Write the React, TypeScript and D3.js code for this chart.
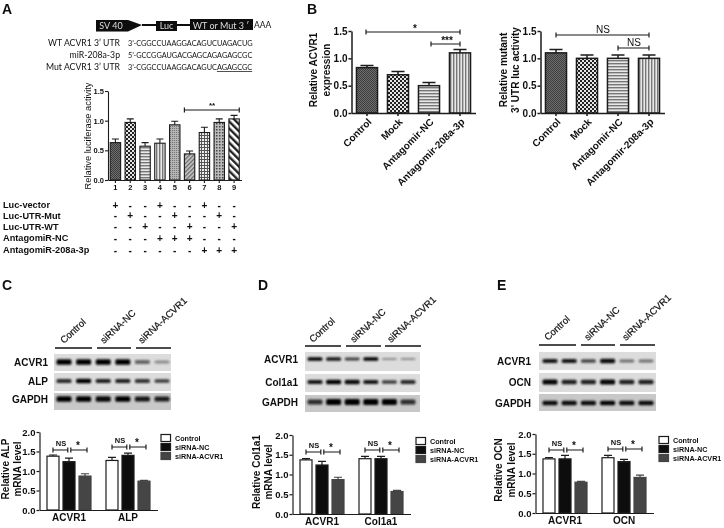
import React, { useEffect, useRef } from 'react';
import * as d3 from 'd3';

// Panel A
const lucLanes = ['1', '2', '3', '4', '5', '6', '7', '8', '9'];
const lucValues = [0.63, 0.97, 0.57, 0.62, 0.93, 0.44, 0.8, 0.97, 1.03];
const lucErrors = [0.06, 0.06, 0.06, 0.07, 0.06, 0.05, 0.09, 0.06, 0.06];
const lucPatterns = ['dither', 'checker', 'hlines', 'vlines', 'fineDiag', 'diag', 'grid', 'dots', 'hatch'];
const treatmentRows = ['Luc-vector', 'Luc-UTR-Mut', 'Luc-UTR-WT', 'AntagomiR-NC', 'AntagomiR-208a-3p'];
const treatmentSigns = [
  '+--+--+--',
  '-+--+--+-',
  '--+--+--+',
  '---+++---',
  '------+++',
];

// Panel B
const antagomirGroups = ['Control', 'Mock', 'Antagomir-NC', 'Antagomir-208a-3p'];
const antagomirPatterns = ['dither', 'checker', 'hlines', 'vlines'];
const acvr1Values = [0.83, 0.7, 0.5, 1.1];
const acvr1Errors = [0.04, 0.06, 0.06, 0.06];
const mutantValues = [1.1, 1.0, 1.0, 1.0];
const mutantErrors = [0.06, 0.06, 0.06, 0.06];

// Panels C, D, E
const sirnaSeries = ['Control', 'siRNA-NC', 'siRNA-ACVR1'];
const alpValues = [[1.38, 1.24, 0.87], [1.27, 1.4, 0.74]];
const alpErrors = [[0.03, 0.09, 0.06], [0.08, 0.06, 0.02]];
const col1a1Values = [[1.37, 1.24, 0.87], [1.4, 1.4, 0.57]];
const col1a1Errors = [[0.03, 0.09, 0.06], [0.06, 0.06, 0.03]];
const ocnValues = [[1.37, 1.37, 0.78], [1.4, 1.3, 0.9]];
const ocnErrors = [[0.03, 0.09, 0.02], [0.06, 0.06, 0.06]];

// Western blot band strength per lane
const blotC = [[1, 1, 1, 1, 0.5, 0.3], [0.8, 1, 0.85, 0.85, 0.75, 0.7], [1, 1, 0.95, 1, 0.9, 0.85]];
const blotD = [[1, 0.9, 0.7, 1, 0.3, 0.3], [0.9, 1, 0.95, 0.9, 0.7, 0.8], [0.75, 1, 1, 1, 1, 0.75]];
const blotE = [[0.9, 0.9, 0.65, 0.95, 0.45, 0.45], [1, 0.85, 0.85, 1, 0.85, 0.85], [0.95, 0.95, 0.95, 1, 0.95, 0.95]];

const FONT = '"Liberation Sans", Arial, sans-serif';
const SERIES_FILL = ['#fff', '#111', '#444'];
const INK = '#1c1c1c';

const addPatterns = defs => {
  const pattern = (id, w, h) => defs.append('pattern')
    .attr('id', id).attr('width', w).attr('height', h)
    .attr('patternUnits', 'userSpaceOnUse');
  const rect = (p, x, y, w, h, fill) => p.append('rect')
    .attr('x', x).attr('y', y).attr('width', w).attr('height', h).attr('fill', fill);

  let p = pattern('dither', 2, 2);
  rect(p, 0, 0, 2, 2, '#6e6e6e');
  rect(p, 0, 0, 1, 1, '#3c3c3c');
  rect(p, 1, 1, 1, 1, '#3c3c3c');

  p = pattern('checker', 4, 4);
  rect(p, 0, 0, 4, 4, '#e4e4e4');
  rect(p, 0, 0, 2, 2, '#222');
  rect(p, 2, 2, 2, 2, '#222');

  p = pattern('hlines', 3, 3);
  rect(p, 0, 0, 3, 3, '#e8e8e8');
  rect(p, 0, 0, 3, 1.4, '#777');

  p = pattern('vlines', 3, 3);
  rect(p, 0, 0, 3, 3, '#e8e8e8');
  rect(p, 0, 0, 1.4, 3, '#777');

  p = pattern('fineDiag', 2, 2);
  rect(p, 0, 0, 2, 2, '#b4b4b4');
  rect(p, 0, 0, 1, 1, '#777');

  p = pattern('diag', 3, 3).attr('patternTransform', 'rotate(45)');
  rect(p, 0, 0, 3, 3, '#c8c8c8');
  rect(p, 0, 0, 1.3, 3, '#666');

  p = pattern('grid', 3, 3);
  rect(p, 0, 0, 3, 3, '#eee');
  rect(p, 0, 0, 3, 1, '#555');
  rect(p, 0, 0, 1, 3, '#555');

  p = pattern('dots', 3, 3);
  rect(p, 0, 0, 3, 3, '#bbb');
  rect(p, 0, 0, 1.5, 1.5, '#444');

  p = pattern('hatch', 5, 5).attr('patternTransform', 'rotate(-45)');
  rect(p, 0, 0, 5, 5, '#fff');
  rect(p, 0, 0, 2.4, 5, '#222');

  defs.append('filter').attr('id', 'band-blur')
    .attr('x', '-30%').attr('y', '-100%').attr('width', '160%').attr('height', '300%')
    .append('feGaussianBlur').attr('stdDeviation', 0.9);
  defs.append('filter').attr('id', 'soft')
    .attr('x', 0).attr('y', 0).attr('width', 724).attr('height', 528)
    .attr('filterUnits', 'userSpaceOnUse')
    .append('feGaussianBlur').attr('stdDeviation', 0.3);
};

const label = (g, x, y, text, size = 10, weight = 'bold', anchor = 'middle') => g.append('text')
  .attr('x', x).attr('y', y)
  .attr('text-anchor', anchor)
  .attr('font-family', FONT)
  .attr('font-size', size)
  .attr('font-weight', weight)
  .attr('fill', '#111')
  .text(text);

const yLabel = (g, x, y, text, size = 10, weight = 'bold') => g.append('text')
  .attr('transform', `translate(${x},${y}) rotate(-90)`)
  .attr('text-anchor', 'middle')
  .attr('font-family', FONT)
  .attr('font-size', size)
  .attr('font-weight', weight)
  .attr('fill', '#111')
  .text(text);

const bracket = (g, x1, x2, y, cap = 2.5, width = 1.2) => {
  g.append('path')
    .attr('d', `M${x1},${y - cap}V${y + cap}M${x1},${y}H${x2}M${x2},${y - cap}V${y + cap}`)
    .attr('fill', 'none')
    .attr('stroke', INK)
    .attr('stroke-width', width);
};

const styleAxis = (axisG, size, width) => {
  axisG.select('.domain').attr('stroke', INK).attr('stroke-width', width);
  axisG.selectAll('.tick line').attr('stroke', INK).attr('stroke-width', width);
  axisG.selectAll('.tick text')
    .attr('font-family', FONT)
    .attr('font-size', size)
    .attr('font-weight', 'bold')
    .attr('fill', '#111');
};

// One series per category, each bar with its own fill pattern
const drawPatternBars = (g, o) => {
  const { cats, values, errors, patterns, xRange, yRange, inner, outer, tickSize, stroke, cap } = o;
  const x = d3.scaleBand().domain(cats).range(xRange).paddingInner(inner).paddingOuter(outer);
  const y = d3.scaleLinear().domain([0, 1.5]).range(yRange);

  g.selectAll(null)
    .data(cats)
    .enter()
    .append('g')
    .each(function (c, i) {
      const bar = d3.select(this);
      const cx = x(c) + x.bandwidth() / 2;
      const top = y(values[i] + errors[i]);
      bar.append('path')
        .attr('d', `M${cx - cap},${top}H${cx + cap}M${cx},${top}V${y(values[i])}`)
        .attr('stroke', INK)
        .attr('stroke-width', stroke);
      bar.append('rect')
        .attr('x', x(c))
        .attr('y', y(values[i]))
        .attr('width', x.bandwidth())
        .attr('height', y(0) - y(values[i]))
        .attr('fill', `url(#${patterns[i]})`)
        .attr('stroke', INK)
        .attr('stroke-width', stroke);
    });

  const yAxis = g.append('g')
    .attr('transform', `translate(${xRange[0]},0)`)
    .call(d3.axisLeft(y).tickValues([0, 0.5, 1, 1.5]).tickFormat(d3.format('.1f')).tickSize(3).tickSizeOuter(0).tickPadding(1));
  styleAxis(yAxis, tickSize, stroke);
  const xAxis = g.append('g')
    .attr('transform', `translate(0,${yRange[0]})`)
    .call(d3.axisBottom(x).tickSize(3).tickSizeOuter(0).tickPadding(2));
  styleAxis(xAxis, tickSize, stroke);
  return { x, y, xAxis };
};

// Two groups of three bars, shared by panels C, D and E
const drawGroupedBars = (g, o) => {
  const { groups, values, errors, xRange, yRange, yTitle, yTitleX, yTitleY, legendX, legendY, bracketY } = o;
  const x0 = d3.scaleBand().domain(groups).range(xRange).paddingInner(0.254).paddingOuter(0.127);
  const x1 = d3.scaleBand().domain(sirnaSeries).range([0, x0.bandwidth()]).paddingInner(0.25);
  const y = d3.scaleLinear().domain([0, 2]).range(yRange);

  groups.forEach((group, gi) => {
    const centers = sirnaSeries.map(s => x0(group) + x1(s) + x1.bandwidth() / 2);
    sirnaSeries.forEach((s, si) => {
      const cx = centers[si];
      const v = values[gi][si];
      const top = y(v + errors[gi][si]);
      g.append('path')
        .attr('d', `M${cx - 4},${top}H${cx + 4}M${cx},${top}V${y(v)}`)
        .attr('stroke', si === 2 ? '#444' : INK)
        .attr('stroke-width', 1.2);
      g.append('rect')
        .attr('x', cx - x1.bandwidth() / 2)
        .attr('y', y(v))
        .attr('width', x1.bandwidth())
        .attr('height', y(0) - y(v))
        .attr('fill', SERIES_FILL[si])
        .attr('stroke', si === 2 ? '#444' : INK)
        .attr('stroke-width', 1.2);
    });
    const by = bracketY[gi];
    bracket(g, centers[0], centers[1] - 1.2, by);
    bracket(g, centers[1] + 1.8, centers[2] + 2, by);
    label(g, (centers[0] + centers[1]) / 2, by - 4, 'NS', 7.5);
    label(g, (centers[1] + centers[2]) / 2 + 1, by - 1, '*', 10);
  });

  const yAxis = g.append('g')
    .attr('transform', `translate(${xRange[0]},0)`)
    .call(d3.axisLeft(y).ticks(4).tickFormat(d3.format('.1f')).tickSize(3).tickSizeOuter(0).tickPadding(1));
  styleAxis(yAxis, 9.5, 1.2);
  const xAxis = g.append('g')
    .attr('transform', `translate(0,${yRange[0]})`)
    .call(d3.axisBottom(x0).tickSize(0).tickSizeOuter(0).tickPadding(4));
  styleAxis(xAxis, 10, 1.2);

  yLabel(g, yTitleX[0], yTitleY, yTitle);
  yLabel(g, yTitleX[1], yTitleY, 'mRNA level');

  sirnaSeries.forEach((s, i) => {
    const ly = legendY + i * 9;
    g.append('rect')
      .attr('x', legendX).attr('y', ly - 3.5)
      .attr('width', 9.5).attr('height', 7)
      .attr('fill', SERIES_FILL[i])
      .attr('stroke', i === 2 ? '#444' : INK)
      .attr('stroke-width', 1.2);
    label(g, legendX + 14, ly + 2.5, s, 7.2, 'bold', 'start');
  });
};

const drawBlot = (g, o) => {
  const { rows, strengths, names, xRange, laneRange, rowBoxes, bandY, bandThick, labelX, lineY, lineSpans, nameXs, nameY } = o;
  const lanes = d3.scalePoint().domain(d3.range(6)).range(laneRange);
  const alpha = d3.scaleLinear().domain([0, 1]).range([0.1, 1]);
  const thick = d3.scaleLinear().domain([0, 1]).range([0.4, 1]);

  rows.forEach((row, r) => {
    g.append('rect')
      .attr('x', xRange[0]).attr('y', rowBoxes[r][0])
      .attr('width', xRange[1] - xRange[0]).attr('height', rowBoxes[r][1] - rowBoxes[r][0])
      .attr('fill', r === 2 ? '#c8c8c8' : '#dcdcdc');
    strengths[r].forEach((s, lane) => {
      const h = bandThick[r] * thick(s);
      g.append('rect')
        .attr('x', lanes(lane) - 7.5)
        .attr('y', bandY[r] - h / 2)
        .attr('width', 15)
        .attr('height', h)
        .attr('rx', 1.5)
        .attr('fill', '#050505')
        .attr('opacity', alpha(s))
        .attr('filter', 'url(#band-blur)');
    });
    label(g, labelX, bandY[r] + 3.5, row, 10, 'bold', 'end');
  });

  lineSpans.forEach(([a, b]) => {
    g.append('line')
      .attr('x1', a).attr('x2', b)
      .attr('y1', lineY).attr('y2', lineY)
      .attr('stroke', '#111')
      .attr('stroke-width', 1.4);
  });
  names.forEach((n, i) => {
    g.append('text')
      .attr('transform', `translate(${nameXs[i]},${nameY}) rotate(-43)`)
      .attr('font-family', FONT)
      .attr('font-size', 9.6)
      .attr('fill', '#111')
      .attr('stroke', '#111')
      .attr('stroke-width', 0.2)
      .text(n);
  });
};

const drawPanelA = g => {
  // construct diagram
  g.append('path')
    .attr('d', 'M96,20H128L142,25L128,31.5H96Z')
    .attr('fill', '#0c0c0c');
  g.append('path').attr('d', 'M142,25H190').attr('stroke', '#0c0c0c').attr('stroke-width', 1.8);
  g.append('rect').attr('x', 156).attr('y', 21).attr('width', 21).attr('height', 10).attr('fill', '#0c0c0c');
  g.append('rect').attr('x', 190).attr('y', 19).attr('width', 63).attr('height', 11).attr('fill', '#0c0c0c');
  const white = (x, text) => g.append('text')
    .attr('x', x).attr('y', 28.5).attr('text-anchor', 'middle')
    .attr('font-family', 'Lato, sans-serif').attr('font-size', 9).attr('fill', '#ddd').text(text);
  white(111, 'SV 40');
  white(166.5, 'Luc');
  white(221, "WT or Mut 3 ʹ");
  g.append('text').attr('x', 254).attr('y', 28)
    .attr('font-family', 'Lato, sans-serif').attr('font-size', 8.5).attr('fill', '#111').text('AAA');

  const seq = (name, y, parts) => {
    g.append('text').attr('x', 120).attr('y', y).attr('text-anchor', 'end')
      .attr('font-family', 'Lato, sans-serif').attr('font-size', 8.7).attr('fill', '#111').text(name);
    const t = g.append('text').attr('x', 128).attr('y', y)
      .attr('font-family', 'Lato, sans-serif').attr('font-size', 7.3).attr('fill', '#111');
    parts.forEach(([s, under]) => {
      t.append('tspan').attr('text-decoration', under ? 'underline' : null).text(s);
    });
  };
  seq("WT ACVR1 3’ UTR", 45.5, [["3’-CGGCCUAAGGACAGUCUAGACUG", false]]);
  seq('miR-208a-3p', 58, [["5’-GCCGGAUGACGAGCAGAGAGCGC", false]]);
  seq("Mut ACVR1 3’ UTR", 70, [["3’-CGGCCUAAGGACAGUC", false], ['AGAGCGC', true]]);

  const { x } = drawPatternBars(g, {
    cats: lucLanes,
    values: lucValues,
    errors: lucErrors,
    patterns: lucPatterns,
    xRange: [108, 241.5],
    yRange: [180, 91],
    inner: 0.3,
    outer: 0.15,
    tickSize: 7.5,
    stroke: 1.1,
    cap: 3.5,
  });
  yLabel(g, 91, 136, 'Relative luciferase activity', 9.3, 'normal');
  bracket(g, x('6'), x('9') + x.bandwidth(), 110, 2.5);
  label(g, 212, 108, '**', 8);

  treatmentRows.forEach((row, r) => {
    const rowY = [205, 215.5, 226.5, 238, 250][r];
    label(g, 3, rowY + 3, row, 9.2, 'bold', 'start');
    treatmentSigns[r].split('').forEach((sign, i) => {
      label(g, x(lucLanes[i]) + x.bandwidth() / 2, rowY + 3.5, sign, 10, 'bold');
    });
  });
};

const drawPanelB = g => {
  const tiltLabels = axis => axis.selectAll('.tick text')
    .attr('text-anchor', 'end')
    .attr('transform', 'rotate(-45)')
    .attr('x', -3)
    .attr('y', 7)
    .attr('dy', '0.35em');

  const left = drawPatternBars(g, {
    cats: antagomirGroups,
    values: acvr1Values,
    errors: acvr1Errors,
    patterns: antagomirPatterns,
    xRange: [351.5, 475.5],
    yRange: [113, 31],
    inner: 0.32,
    outer: 0.16,
    tickSize: 10,
    stroke: 1.5,
    cap: 6.5,
  });
  tiltLabels(left.xAxis);
  yLabel(g, 317, 70, 'Relative ACVR1');
  yLabel(g, 330, 70, 'expression');
  bracket(g, 366, 460, 32);
  label(g, 415, 32, '*', 10);
  bracket(g, 431, 460, 44);
  label(g, 447, 44, '***', 10);

  const right = drawPatternBars(g, {
    cats: antagomirGroups,
    values: mutantValues,
    errors: mutantErrors,
    patterns: antagomirPatterns,
    xRange: [540.5, 664.5],
    yRange: [113, 31],
    inner: 0.32,
    outer: 0.16,
    tickSize: 10,
    stroke: 1.5,
    cap: 6.5,
  });
  tiltLabels(right.xAxis);
  yLabel(g, 507, 70, 'Relative mutant');
  yLabel(g, 519, 70, "3' UTR luc activity");
  bracket(g, 556, 649, 35);
  label(g, 603, 33, 'NS', 10, 'normal');
  bracket(g, 618, 649, 48);
  label(g, 634, 46, 'NS', 10, 'normal');
};

const App = () => {
  const svgRef = useRef(null);

  useEffect(() => {
    d3.select(svgRef.current).selectAll('*').remove();

    const svg = d3.select(svgRef.current)
      .attr('width', 724)
      .attr('height', 528);

    addPatterns(svg.append('defs'));
    svg.append('rect').attr('width', 724).attr('height', 528).attr('fill', '#fff');
    const g = svg.append('g').attr('filter', 'url(#soft)');

    label(g, 2, 14, 'A', 14, 'bold', 'start');
    label(g, 307, 14, 'B', 14, 'bold', 'start');
    label(g, 2, 290, 'C', 14, 'bold', 'start');
    label(g, 258, 290, 'D', 14, 'bold', 'start');
    label(g, 497, 290, 'E', 14, 'bold', 'start');

    drawPanelA(g);
    drawPanelB(g);

    drawBlot(g, {
      rows: ['ACVR1', 'ALP', 'GAPDH'],
      strengths: blotC,
      names: sirnaSeries,
      xRange: [54, 171],
      laneRange: [64, 162],
      rowBoxes: [[354, 371], [373, 391], [393, 410]],
      bandY: [362, 381, 399],
      bandThick: [5.5, 4.5, 5.5],
      labelX: 48,
      lineY: 348,
      lineSpans: [[55, 92], [97, 131], [136, 171]],
      nameXs: [64, 104, 142],
      nameY: 344,
    });
    drawGroupedBars(g, {
      groups: ['ACVR1', 'ALP'],
      values: alpValues,
      errors: alpErrors,
      xRange: [39.5, 157.5],
      yRange: [510, 432],
      yTitle: 'Relative ALP',
      yTitleX: [9, 20.5],
      yTitleY: 469,
      legendX: 161,
      legendY: 438,
      bracketY: [450, 447],
    });

    drawBlot(g, {
      rows: ['ACVR1', 'Col1a1', 'GAPDH'],
      strengths: blotD,
      names: sirnaSeries,
      xRange: [305, 420],
      laneRange: [315, 408],
      rowBoxes: [[352, 371], [374, 392], [395, 412]],
      bandY: [359, 382, 402],
      bandThick: [3.5, 4.5, 6],
      labelX: 298,
      lineY: 346,
      lineSpans: [[305, 341], [346, 381], [385, 421]],
      nameXs: [313, 354, 391],
      nameY: 343,
    });
    drawGroupedBars(g, {
      groups: ['ACVR1', 'Col1a1'],
      values: col1a1Values,
      errors: col1a1Errors,
      xRange: [292.5, 410.5],
      yRange: [514, 435],
      yTitle: 'Relative Col1a1',
      yTitleX: [260, 272],
      yTitleY: 472,
      legendX: 416,
      legendY: 441,
      bracketY: [452, 450],
    });

    drawBlot(g, {
      rows: ['ACVR1', 'OCN', 'GAPDH'],
      strengths: blotE,
      names: sirnaSeries,
      xRange: [539, 656],
      laneRange: [550, 646],
      rowBoxes: [[352, 370], [373, 392], [394, 411]],
      bandY: [361, 382, 403],
      bandThick: [4.5, 5, 4.5],
      labelX: 531,
      lineY: 345,
      lineSpans: [[539, 576], [581, 615], [620, 655]],
      nameXs: [548, 588, 626],
      nameY: 341,
    });
    drawGroupedBars(g, {
      groups: ['ACVR1', 'OCN'],
      values: ocnValues,
      errors: ocnErrors,
      xRange: [535.5, 653.5],
      yRange: [513, 434],
      yTitle: 'Relative OCN',
      yTitleX: [502, 515],
      yTitleY: 470,
      legendX: 659,
      legendY: 440,
      bracketY: [450, 449],
    });
  }, []);

  return <svg ref={svgRef} style={{ position: 'absolute', left: 0, top: 0 }} />;
};

export default App;
